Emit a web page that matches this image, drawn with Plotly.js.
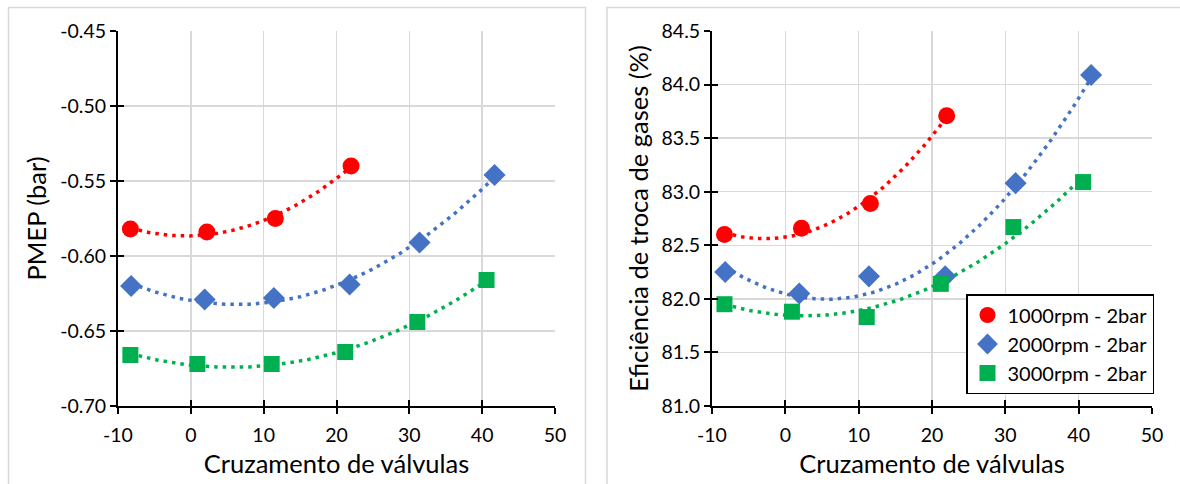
<!DOCTYPE html>
<html>
<head>
<meta charset="utf-8">
<script src="https://cdn.plot.ly/plotly-3.0.1.min.js"></script>
<style>
html,body{margin:0;padding:0;background:#fff;}
#chart{width:1180px;height:484px;}
</style>
</head>
<body>
<div id="chart"></div>
<script>
// ---- data ----
const seriesNames = ["1000rpm - 2bar", "2000rpm - 2bar", "3000rpm - 2bar"];

const x1000 = [-8.3, 2.2, 11.6, 22.0];
const x2000 = [-8.2, 1.9, 11.4, 21.8, 31.4, 41.7];
const x3000 = [-8.3, 0.9, 11.1, 21.2, 31.1, 40.6];

const pmep1000 = [-0.582, -0.584, -0.575, -0.540];
const pmep2000 = [-0.620, -0.629, -0.628, -0.619, -0.591, -0.546];
const pmep3000 = [-0.666, -0.672, -0.672, -0.664, -0.644, -0.616];

const eff1000 = [82.60, 82.66, 82.89, 83.71];
const eff2000 = [82.25, 82.05, 82.21, 82.21, 83.08, 84.09];
const eff3000 = [81.95, 81.88, 81.83, 82.14, 82.67, 83.09];

const xTickVals = [-10, 0, 10, 20, 30, 40, 50];
const xTickText = ["-10", "0", "10", "20", "30", "40", "50"];
const yLeftTickVals = [-0.70, -0.65, -0.60, -0.55, -0.50, -0.45];
const yLeftTickText = ["-0.70", "-0.65", "-0.60", "-0.55", "-0.50", "-0.45"];
const yRightTickVals = [81.0, 81.5, 82.0, 82.5, 83.0, 83.5, 84.0, 84.5];
const yRightTickText = ["81.0", "81.5", "82.0", "82.5", "83.0", "83.5", "84.0", "84.5"];

const xTitle = "Cruzamento de válvulas";
const yTitleLeft = "PMEP (bar)";
const yTitleRight = "Eficiência de troca de gases (%)";

// ---- styles ----
const colors = ["#FF0000", "#4472C4", "#00B050"];
const symbols = ["circle", "diamond", "square"];
const sizes = [17, 17, 16];
const FONT = "Lato, 'Open Sans', sans-serif";

// quadratic least-squares trendline (Excel "polynomial, order 2")
function polyfit2(xs, ys) {
  let n = xs.length, s = [0,0,0,0,0], t = [0,0,0];
  for (let i = 0; i < n; i++) {
    let p = 1;
    for (let k = 0; k < 5; k++) { s[k] += p; if (k < 3) t[k] += p * ys[i]; p *= xs[i]; }
  }
  const A = [[s[0], s[1], s[2], t[0]], [s[1], s[2], s[3], t[1]], [s[2], s[3], s[4], t[2]]];
  for (let c = 0; c < 3; c++) {
    let piv = c;
    for (let r = c + 1; r < 3; r++) if (Math.abs(A[r][c]) > Math.abs(A[piv][c])) piv = r;
    [A[c], A[piv]] = [A[piv], A[c]];
    for (let r = 0; r < 3; r++) if (r !== c) {
      const f = A[r][c] / A[c][c];
      for (let k = c; k < 4; k++) A[r][k] -= f * A[c][k];
    }
  }
  return [A[0][3] / A[0][0], A[1][3] / A[1][1], A[2][3] / A[2][2]];
}
function trend(xs, ys) {
  const c = polyfit2(xs, ys);
  const lo = Math.min(...xs), hi = Math.max(...xs);
  const tx = [], ty = [];
  for (let i = 0; i <= 120; i++) {
    const x = lo + (hi - lo) * i / 120;
    tx.push(x); ty.push(c[0] + c[1] * x + c[2] * x * x);
  }
  return { tx, ty };
}

const traces = [];
function addSeries(xs, ys, idx, xa, ya, showLeg) {
  const t = trend(xs, ys);
  traces.push({
    x: t.tx, y: t.ty, xaxis: xa, yaxis: ya, mode: "lines", showlegend: false, hoverinfo: "skip",
    line: { color: colors[idx], width: 3.5, dash: "3.5px,5px" }
  });
  traces.push({
    x: xs, y: ys, xaxis: xa, yaxis: ya, mode: "markers", name: seriesNames[idx], showlegend: showLeg,
    marker: { color: colors[idx], symbol: symbols[idx], size: sizes[idx] }
  });
}
addSeries(x1000, pmep1000, 0, "x", "y", false);
addSeries(x2000, pmep2000, 1, "x", "y", false);
addSeries(x3000, pmep3000, 2, "x", "y", false);
addSeries(x1000, eff1000, 0, "x2", "y2", true);
addSeries(x2000, eff2000, 1, "x2", "y2", true);
addSeries(x3000, eff3000, 2, "x2", "y2", true);

const W = 1180, H = 484;
const dL = [118 / W, 555 / W], dR = [712 / W, 1152 / W];
const dY = [1 - 406 / H, 1 - 31 / H];

const tickFont = { family: FONT, size: 19.5, color: "#000" };
const titleFont = { family: FONT, size: 25.5, color: "#000" };

function xAxis(domain, anchor) {
  return {
    domain, anchor, range: [-10, 50], tickmode: "array", tickvals: xTickVals, ticktext: xTickText,
    showline: true, linecolor: "#000", linewidth: 2, mirror: false,
    ticks: "outside", ticklen: 6, tickwidth: 2, tickcolor: "#000", ticklabelstandoff: 5,
    showgrid: true, gridcolor: "#D9D9D9", gridwidth: 1.5, zeroline: false,
    tickfont: tickFont, title: { text: xTitle, font: titleFont, standoff: 10 }
  };
}
function yAxis(domain, anchor, range, tv, tt, title) {
  return {
    domain, anchor, range, tickmode: "array", tickvals: tv, ticktext: tt,
    showline: true, linecolor: "#000", linewidth: 2,
    ticks: "outside", ticklen: 6, tickwidth: 2, tickcolor: "#000",
    showgrid: true, gridcolor: "#D9D9D9", gridwidth: 1.5, zeroline: false,
    tickfont: tickFont, title: { text: title, font: titleFont, standoff: 6 }
  };
}
// overlay axes for inside half of cross ticks
function inX(domain, anchor, over) {
  return { domain, anchor, overlaying: over, matches: over, range: [-10, 50], tickmode: "array", tickvals: xTickVals,
    ticks: "inside", ticklen: 6, tickwidth: 2, tickcolor: "#000", showticklabels: false,
    showgrid: false, zeroline: false, showline: false };
}
function inY(domain, anchor, over, range, tv) {
  return { domain, anchor, overlaying: over, matches: over, range, tickmode: "array", tickvals: tv,
    ticks: "inside", ticklen: 6, tickwidth: 2, tickcolor: "#000", showticklabels: false,
    showgrid: false, zeroline: false, showline: false };
}

traces.push({ x: [null], y: [null], xaxis: "x3", yaxis: "y3", showlegend: false, hoverinfo: "skip" });
traces.push({ x: [null], y: [null], xaxis: "x4", yaxis: "y4", showlegend: false, hoverinfo: "skip" });

const layout = {
  width: W, height: H,
  margin: { l: 0, r: 0, t: 0, b: 0 },
  paper_bgcolor: "#fff", plot_bgcolor: "rgba(0,0,0,0)",
  font: { family: FONT, color: "#000" },
  xaxis: xAxis(dL, "y"),
  yaxis: yAxis(dY, "x", [-0.70, -0.45], yLeftTickVals, yLeftTickText, yTitleLeft),
  xaxis2: xAxis(dR, "y2"),
  yaxis2: yAxis(dY, "x2", [81, 84.5], yRightTickVals, yRightTickText, yTitleRight),
  xaxis3: inX(dL, "y3", "x"),
  yaxis3: inY(dY, "x3", "y", [-0.70, -0.45], yLeftTickVals),
  xaxis4: inX(dR, "y4", "x2"),
  yaxis4: inY(dY, "x4", "y2", [81, 84.5], yRightTickVals),
  showlegend: true,
  legend: {
    x: 966 / W, y: 1 - 294 / H, xanchor: "left", yanchor: "top",
    bgcolor: "#fff", bordercolor: "#000", borderwidth: 1.5,
    font: { family: FONT, size: 20, color: "#000" },
    itemsizing: "trace", itemwidth: 30, tracegroupgap: 0
  },
  shapes: [
    { type: "rect", xref: "paper", yref: "paper", x0: 8.5 / W, x1: 585.5 / W, y0: -0.1, y1: 1 - 7.5 / H,
      line: { color: "#D9D9D9", width: 1.5 }, layer: "below" },
    { type: "rect", xref: "paper", yref: "paper", x0: 607 / W, x1: 1.1, y0: -0.1, y1: 1 - 7.5 / H,
      line: { color: "#D9D9D9", width: 1.5 }, layer: "below" }
  ]
};

Plotly.newPlot("chart", traces, layout, { displayModeBar: false, staticPlot: true });
</script>
</body>
</html>
